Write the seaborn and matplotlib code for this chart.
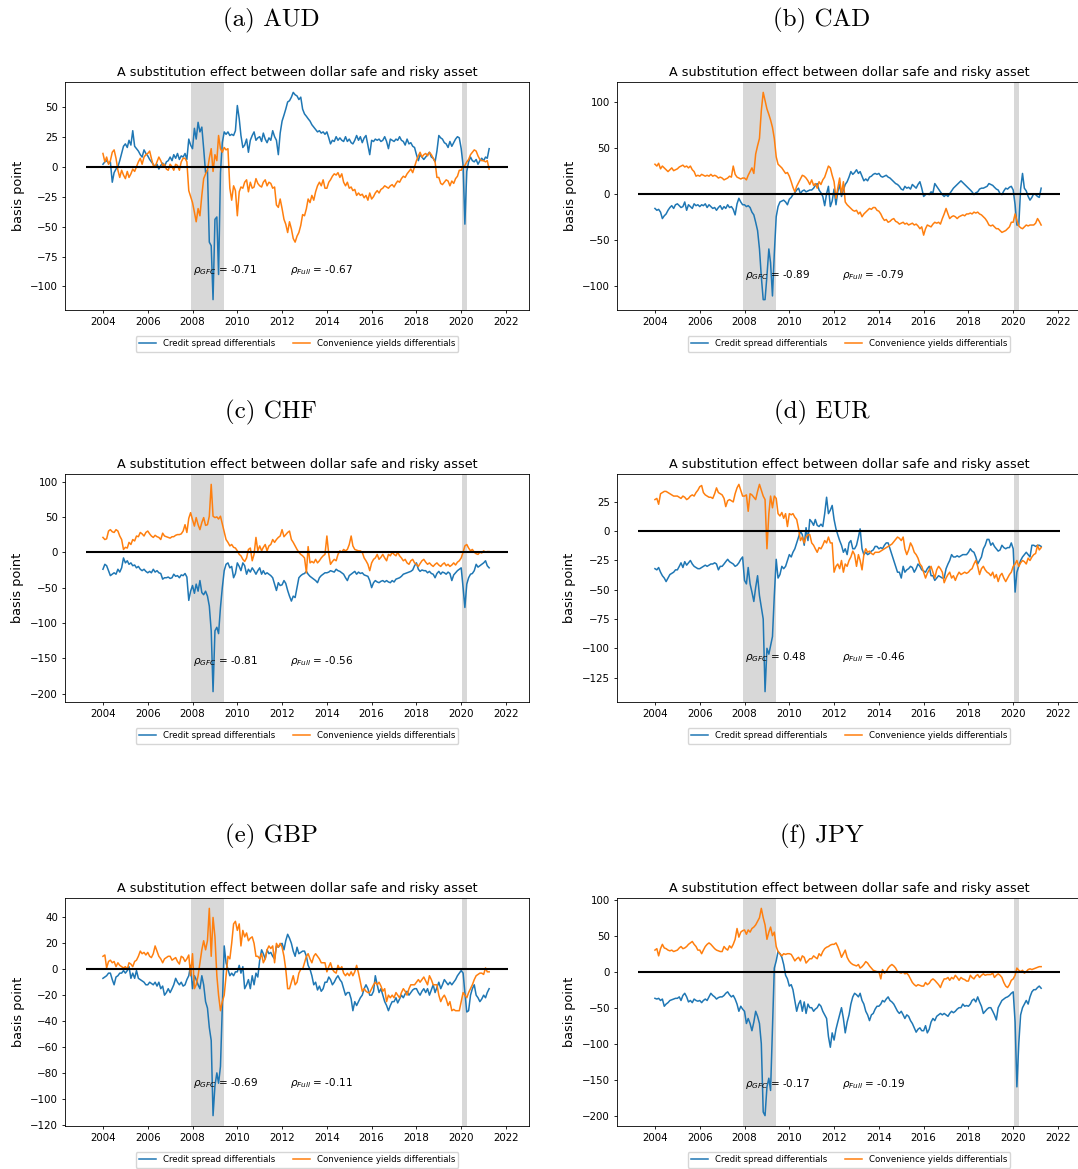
import matplotlib
matplotlib.use("Agg")
import matplotlib.pyplot as plt
import matplotlib.dates as mdates
import pandas as pd
import seaborn as sns

# Monthly observations, Jan 2004 - Apr 2021 (basis points)
dates = pd.date_range("2004-01-01", "2021-04-01", freq="MS")

aud_credit = [
    2, 4, 5, 3, 4, -13, -5, -2, 0, 5, 11, 17,
    19, 16, 22, 18, 30, 17, 15, 13, 10, 8, 14, 11,
    9, 6, 4, 2, 0, 2, -2, 1, 3, 0, 4, 5,
    8, 5, 10, 7, 11, 6, 9, 8, 11, 6, 23, 18,
    15, 32, 23, 37, 29, 33, 15, -5, -3, -63, -66, -111,
    -44, -42, -90, -5, 20, 29, 27, 29, 26, 27, 26, 30,
    51, 40, 26, 16, 18, 23, 12, 22, 26, 29, 22, 24,
    25, 21, 28, 23, 20, 24, 22, 30, 25, 22, 10, 28,
    38, 43, 48, 54, 55, 58, 62, 60, 59, 56, 58, 48,
    44, 42, 40, 38, 35, 33, 31, 29, 30, 28, 29, 27,
    29, 24, 19, 22, 21, 25, 22, 24, 22, 21, 25, 21,
    23, 20, 19, 22, 26, 22, 25, 20, 24, 26, 18, 10,
    22, 21, 23, 22, 23, 21, 22, 25, 21, 15, 23, 22,
    21, 23, 22, 25, 22, 21, 18, 23, 19, 20, 17, 16,
    10, 5, 10, 8, 6, 8, 10, 12, 8, 7, 4, 13,
    26, 24, 23, 20, 19, 16, 21, 17, 20, 23, 25, 24,
    15, 1, -48, -4, 4, 8, 5, 4, 6, 2, 5, 7,
    5, 8, 7, 15,
]
aud_conv = [
    11, 4, 8, 2, 5, 12, 14, 7, -3, -9, -3, -7,
    -10, -4, -9, -6, -2, -4, 0, 4, 7, 2, 8, 10,
    11, 13, 7, 1, 0, 4, 8, 5, 1, 2, -2, -3,
    2, 0, -3, 2, 1, -3, 4, 7, 7, 4, -20, -25,
    -30, -38, -46, -35, -41, -24, -10, -6, -3, 7, 15, -4,
    10, 5, 26, 15, 12, 16, 14, 15, -18, -28, -16, -20,
    -41, -21, -17, -18, -13, -11, -21, -13, -18, -17, -10, -14,
    -16, -17, -13, -11, -16, -13, -14, -18, -17, -32, -34, -27,
    -35, -44, -48, -55, -46, -52, -60, -63, -58, -55, -49, -40,
    -41, -35, -27, -30, -24, -28, -21, -16, -13, -16, -11, -18,
    -18, -13, -11, -8, -6, -7, -5, -9, -6, -13, -16, -13,
    -18, -17, -20, -19, -24, -22, -24, -23, -26, -24, -28, -22,
    -27, -25, -22, -20, -22, -19, -18, -16, -17, -18, -16, -15,
    -17, -14, -12, -13, -10, -8, -9, -6, -4, -2, -5, 0,
    5, 9, 12, 8, 10, 11, 9, 12, 10, 7, 4, -9,
    -9, -14, -15, -13, -11, -12, -16, -12, -14, -10, -8, -3,
    -3, 0, 1, 4, 6, 10, 12, 14, 13, 9, 6, 5,
    5, 4, 5, -2,
]

cad_credit = [
    -16, -18, -17, -20, -27, -24, -22, -18, -15, -13, -16, -12,
    -11, -13, -15, -14, -9, -18, -12, -14, -16, -11, -13, -12,
    -14, -12, -13, -11, -15, -12, -14, -16, -15, -18, -15, -13,
    -17, -14, -16, -12, -15, -14, -17, -23, -11, -5, -9, -12,
    -12, -14, -13, -15, -20, -23, -31, -40, -60, -90, -115, -115,
    -89, -60, -75, -111, -65, -25, -14, -9, -8, -7, -9, -12,
    -6, -4, -1, 1, 4, 6, 0, 3, 4, 2, 3, 4,
    4, 6, 9, 11, 4, 1, -3, -13, 0, 8, -14, -8,
    5, -12, 2, 10, -3, 4, 10, 13, 18, 24, 21, 23,
    26, 22, 24, 19, 14, 16, 14, 18, 19, 21, 22, 21,
    22, 19, 18, 19, 20, 18, 17, 15, 13, 11, 10, 8,
    5, 4, 8, 6, 7, 5, 10, 8, 6, 10, 13, 6,
    -3, -1, 0, -1, 2, 1, 11, 8, 5, 2, -1, -3,
    -1, -3, 0, 3, 6, 8, 10, 12, 14, 12, 10, 8,
    6, 4, 2, -1, 1, 2, 5, 6, 6, 7, 8, 11,
    10, 9, 7, 5, 4, 0, -1, 3, 6, 5, 7, 8,
    4, -12, -34, -34, 5, 22, 6, 3, -3, -7, -4, 0,
    -1, -3, -4, 6,
]
cad_conv = [
    32, 30, 33, 27, 30, 28, 26, 24, 26, 28, 25, 26,
    27, 29, 30, 31, 29, 30, 28, 30, 26, 24, 19, 20,
    19, 21, 20, 19, 20, 19, 21, 19, 20, 19, 17, 18,
    17, 15, 16, 17, 19, 18, 30, 21, 18, 17, 16, 17,
    17, 15, 20, 24, 28, 22, 43, 52, 60, 90, 110, 101,
    92, 86, 80, 72, 60, 40, 32, 30, 28, 25, 22, 23,
    19, 13, 7, 2, 8, 12, 16, 20, 19, 17, 14, 10,
    15, 9, 11, 6, 13, 10, 15, 18, 24, 30, 28, 20,
    13, -5, 6, 17, -1, 13, -9, -12, -14, -16, -18, -19,
    -18, -22, -20, -25, -22, -20, -18, -16, -17, -15, -15, -18,
    -19, -22, -26, -29, -28, -31, -30, -28, -27, -30, -31, -33,
    -32, -31, -33, -32, -34, -33, -32, -34, -33, -35, -38, -36,
    -45, -38, -34, -35, -36, -33, -31, -32, -31, -33, -27, -22,
    -16, -22, -27, -25, -24, -25, -27, -25, -24, -23, -24, -22,
    -22, -21, -22, -20, -21, -20, -22, -23, -25, -27, -30, -34,
    -35, -34, -36, -38, -38, -40, -42, -41, -40, -38, -36, -31,
    -31, -22, -29, -35, -37, -38, -36, -34, -35, -34, -34, -34,
    -32, -27, -30, -34,
]

chf_credit = [
    -24, -17, -19, -26, -33, -31, -29, -31, -24, -28, -22, -8,
    -15, -12, -17, -15, -19, -18, -22, -20, -24, -26, -24, -27,
    -29, -27, -29, -24, -28, -26, -29, -30, -38, -36, -36, -35,
    -37, -36, -31, -34, -33, -36, -32, -33, -30, -35, -68, -55,
    -47, -58, -45, -55, -40, -57, -60, -55, -62, -76, -111, -197,
    -111, -106, -115, -78, -50, -26, -17, -15, -22, -20, -36, -30,
    -15, -20, -26, -15, -19, -31, -24, -28, -22, -26, -31, -26,
    -22, -31, -26, -31, -29, -31, -33, -36, -45, -54, -43, -47,
    -46, -40, -44, -54, -62, -69, -62, -64, -50, -36, -33, -31,
    -30, -27, -31, -34, -36, -38, -40, -43, -36, -33, -31, -29,
    -29, -28, -26, -27, -28, -24, -26, -27, -29, -31, -36, -40,
    -33, -31, -29, -27, -31, -28, -30, -29, -32, -33, -34, -40,
    -50, -43, -40, -42, -43, -41, -40, -42, -40, -42, -43, -40,
    -42, -38, -37, -36, -34, -31, -30, -29, -28, -27, -25, -19,
    -15, -24, -27, -25, -26, -26, -29, -27, -30, -31, -36, -30,
    -27, -31, -28, -29, -31, -28, -30, -40, -32, -29, -26, -24,
    -22, -50, -78, -45, -36, -31, -30, -26, -17, -21, -19, -17,
    -15, -12, -19, -22,
]
chf_conv = [
    21, 18, 19, 30, 32, 29, 28, 32, 30, 23, 18, 4,
    7, 6, 14, 11, 18, 16, 23, 22, 28, 26, 23, 28,
    30, 26, 23, 21, 24, 22, 21, 18, 27, 23, 22, 21,
    20, 22, 22, 24, 25, 25, 26, 30, 39, 28, 48, 56,
    46, 37, 49, 39, 32, 42, 49, 38, 39, 51, 96, 51,
    49, 50, 47, 51, 40, 28, 18, 14, 9, 11, 7, 6,
    2, -3, -5, -10, -13, -8, 4, 6, -12, -3, 21, 2,
    9, 2, 7, 11, 2, 9, 11, 18, 14, 18, 21, 23,
    32, 22, 25, 28, 30, 18, 14, 9, 4, 0, -3, -5,
    -8, -29, 8, -15, -13, -15, -10, -15, -12, -8, -5, -3,
    23, -3, -17, -13, -10, -12, -3, 2, 0, 4, 2, 4,
    11, 23, 9, 4, 3, 2, 2, 0, -8, -12, -17, -26,
    -15, -10, -8, -3, -10, -7, -3, -8, -12, -3, -5, 0,
    -3, -5, 0, -5, -8, -12, -10, -15, -17, -12, -10, -15,
    -17, -20, -16, -12, -10, -14, -17, -15, -18, -20, -17, -15,
    -18, -20, -17, -15, -19, -17, -20, -18, -15, -18, -14, -12,
    -8, 0, 9, 11, 6, 2, 4, 0, -2, -3, 0, -1,
    2, 0, 1, 1,
]

eur_credit = [
    -32, -33, -31, -35, -38, -40, -43, -40, -37, -36, -35, -33,
    -33, -30, -27, -31, -26, -29, -27, -25, -28, -30, -31, -32,
    -32, -31, -30, -29, -30, -29, -28, -28, -27, -28, -33, -30,
    -30, -28, -26, -24, -26, -27, -28, -30, -29, -27, -24, -22,
    -42, -45, -31, -45, -52, -60, -48, -38, -55, -65, -75, -137,
    -100, -105, -98, -90, -55, -24, -40, -37, -30, -32, -30, -25,
    -20, -22, -18, -15, -10, -5, 0, -3, -12, 3, -8, 10,
    8, 5, 10, 5, 4, 6, 4, 15, 29, 15, 18, 22,
    10, 2, -3, -8, -12, -18, -15, -20, -10, -8, -15, -15,
    -12, -5, 2, -15, -20, -18, -20, -19, -17, -16, -13, -13,
    -15, -14, -15, -12, -10, -10, -15, -20, -25, -30, -35, -35,
    -40, -30, -35, -33, -32, -30, -31, -35, -32, -28, -30, -33,
    -34, -35, -32, -30, -38, -38, -42, -40, -38, -39, -40, -40,
    -32, -28, -25, -20, -22, -22, -21, -22, -21, -20, -20, -20,
    -18, -15, -17, -18, -22, -28, -25, -22, -15, -12, -7, -7,
    -12, -10, -13, -15, -17, -16, -12, -14, -15, -14, -14, -10,
    -15, -52, -35, -30, -25, -22, -20, -18, -20, -22, -12, -12,
    -13, -12, -12, -13,
]
eur_conv = [
    27, 28, 23, 32, 33, 34, 34, 33, 32, 31, 30, 30,
    30, 29, 28, 30, 29, 27, 28, 30, 31, 30, 33, 35,
    38, 39, 33, 31, 30, 29, 29, 28, 32, 37, 33, 32,
    31, 28, 21, 26, 27, 26, 25, 32, 37, 40, 35, 30,
    30, 31, 17, 32, 31, 29, 27, 34, 40, 35, 30, 27,
    -15, 15, 30, 20, 30, 28, 15, 13, 16, 11, 15, 4,
    15, 14, 15, 12, 10, 2, -8, -5, -10, -5, -3, -3,
    -10, -12, -15, -18, -14, -15, -12, -8, -10, -5, -10, -10,
    -35, -30, -28, -32, -25, -35, -28, -30, -25, -22, -17, -20,
    -30, -20, -25, -33, -20, -15, -18, -17, -19, -20, -18, -18,
    -18, -17, -16, -15, -14, -13, -12, -11, -9, -7, -5, -6,
    -8, -5, -15, -20, -16, -10, -13, -18, -20, -23, -28, -30,
    -35, -40, -36, -33, -30, -35, -40, -33, -30, -32, -35, -44,
    -40, -37, -35, -40, -38, -42, -38, -35, -37, -36, -35, -36,
    -35, -33, -32, -28, -25, -30, -37, -32, -30, -33, -35, -36,
    -38, -35, -40, -37, -43, -38, -36, -40, -43, -40, -37, -35,
    -30, -28, -25, -30, -27, -25, -26, -28, -23, -25, -22, -20,
    -19, -12, -16, -14,
]

gbp_credit = [
    -7, -6, -5, -3, -3, -8, -12, -6, -5, -3, -3, -1,
    -3, -1, 2, -7, -3, -7, -1, -7, -8, -9, -10, -12,
    -12, -10, -11, -12, -10, -13, -10, -15, -13, -20, -18, -15,
    -18, -15, -12, -7, -10, -12, -10, -13, -12, -8, -5, 3,
    -15, -5, -8, -12, -15, -5, -12, -25, -30, -45, -55, -113,
    -90, -80, -88, -75, -30, 18, 5, 0, -5, -3, -5, -2,
    -2, 3, -3, 2, -15, -12, -8, -15, -5, -12, -3, -6,
    7, 15, 12, 8, 15, 12, 13, 10, 8, 18, 17, 19,
    20, 15, 22, 27, 24, 20, 14, 10, 17, 12, 13, 14,
    14, 10, 3, 0, -5, -12, -10, -16, -13, -17, -15, -10,
    -10, -6, -8, -12, -10, -7, -5, -8, -10, -15, -20, -18,
    -18, -23, -32, -25, -28, -25, -22, -20, -15, -12, -15, -20,
    -20, -17, -5, -12, -18, -15, -20, -25, -28, -32, -28, -25,
    -25, -22, -26, -23, -20, -22, -19, -17, -20, -18, -16, -15,
    -15, -18, -20, -17, -15, -18, -15, -20, -16, -12, -18, -14,
    -10, -15, -12, -8, -10, -12, -10, -12, -10, -8, -5, -3,
    -1, -3, -18, -33, -32, -20, -15, -12, -20, -22, -25, -23,
    -20, -22, -18, -15,
]
gbp_conv = [
    10, 11, 1, 6, 7, 5, 6, 2, 5, 3, 2, 1,
    2, 0, 5, 4, 2, 6, 7, 10, 14, 12, 13, 11,
    13, 10, 9, 12, 18, 14, 10, 8, 5, 8, 9, 10,
    10, 7, 8, 9, 6, 4, 10, 9, 6, 8, 11, -5,
    12, -15, -12, -5, 5, 15, 22, 15, 22, 47, 10, 40,
    25, -5, -20, -32, -25, -20, -5, 10, 8, 20, 35, 37,
    30, 35, 18, 30, 25, 28, 22, 24, 25, 20, 10, 10,
    8, 12, 5, 8, 15, 18, 16, 18, 5, 20, 17, 20,
    17, 10, 0, -15, -15, -10, -5, -12, -10, -3, 0, 0,
    5, 10, 12, 8, 5, 10, 12, 10, 8, 5, 5, 5,
    -2, 2, 5, 0, -2, -3, 3, 0, 2, -3, -5, -3,
    -5, -2, -5, -2, 3, -3, -10, -17, -15, -17, -18, -18,
    -15, -12, -10, -12, -10, -13, -17, -15, -25, -20, -22, -20,
    -22, -18, -20, -22, -18, -15, -17, -20, -15, -12, -12, -12,
    -10, -8, -10, -8, -6, -9, -12, -5, -8, -12, -12, -12,
    -20, -25, -22, -20, -23, -28, -25, -32, -31, -32, -32, -32,
    -25, -18, -20, -22, -18, -15, -12, -8, -5, -4, -3, -3,
    -4, 1, -2, -2,
]

jpy_credit = [
    -37, -38, -37, -40, -38, -48, -45, -43, -40, -39, -38, -37,
    -37, -35, -40, -33, -30, -35, -42, -40, -43, -38, -40, -41,
    -40, -43, -40, -38, -40, -35, -30, -33, -35, -38, -36, -35,
    -35, -33, -30, -28, -32, -35, -33, -38, -45, -55, -48, -52,
    -55, -72, -65, -72, -82, -70, -55, -62, -72, -100, -195, -200,
    -160, -148, -165, -80, 5, 15, 28, 25, 20, 10, -5, -10,
    -20, -18, -25, -40, -55, -45, -40, -55, -42, -58, -45, -50,
    -50, -55, -52, -50, -45, -48, -55, -60, -65, -90, -105, -85,
    -95, -80, -70, -60, -50, -65, -85, -70, -60, -45, -35, -30,
    -32, -35, -30, -40, -45, -55, -60, -68, -60, -58, -52, -48,
    -48, -45, -40, -42, -38, -35, -40, -42, -45, -50, -55, -58,
    -55, -60, -65, -60, -62, -68, -72, -78, -84, -80, -78, -82,
    -82, -75, -85, -80, -70, -65, -68, -62, -60, -58, -60, -58,
    -60, -62, -58, -55, -57, -55, -52, -50, -50, -45, -48, -47,
    -48, -45, -40, -38, -42, -35, -42, -48, -58, -55, -52, -50,
    -50, -55, -60, -67, -50, -45, -40, -38, -36, -35, -33, -30,
    -28, -70, -160, -100, -60, -50, -45, -40, -45, -35, -28, -25,
    -25, -22, -20, -23,
]
jpy_conv = [
    30, 32, 22, 32, 38, 33, 32, 30, 29, 30, 28, 29,
    30, 33, 35, 32, 33, 35, 38, 40, 42, 38, 35, 30,
    30, 25, 30, 35, 38, 40, 38, 35, 32, 30, 29, 28,
    28, 35, 32, 30, 36, 33, 38, 45, 60, 48, 55, 57,
    58, 52, 58, 55, 60, 62, 65, 70, 75, 88, 75, 65,
    45, 55, 62, 50, 55, 35, 28, 25, 22, 25, 24, 25,
    25, 24, 20, 15, 18, 20, 15, 22, 20, 12, 15, 18,
    18, 22, 20, 18, 25, 22, 28, 32, 34, 35, 37, 38,
    38, 40, 35, 28, 20, 25, 30, 20, 15, 12, 10, 9,
    8, 10, 5, 7, 10, 14, 12, 8, 5, 2, 1, 0,
    0, -10, 3, -2, 0, 5, 8, 10, 8, 5, 0, -1,
    -2, 0, -3, -2, -5, -10, -15, -18, -20, -18, -19, -20,
    -20, -15, -18, -16, -12, -10, -12, -15, -18, -22, -15, -10,
    -10, -8, -12, -8, -10, -5, -8, -12, -8, -10, -11, -13,
    -13, -5, -8, -10, -6, -4, -8, -5, -3, -5, -4, -4,
    -4, -2, -8, -5, -3, -5, -8, -15, -20, -22, -18, -12,
    -10, -5, 5, 2, 0, 2, -2, 0, 3, 4, 3, 4,
    5, 6, 7, 7,
]

currencies = ["AUD", "CAD", "CHF", "EUR", "GBP", "JPY"]
panel_tags = ["(a)", "(b)", "(c)", "(d)", "(e)", "(f)"]
credit_series = [aud_credit, cad_credit, chf_credit, eur_credit, gbp_credit, jpy_credit]
conv_series = [aud_conv, cad_conv, chf_conv, eur_conv, gbp_conv, jpy_conv]
rho_gfc = ["-0.71", "-0.89", "-0.81", "0.48", "-0.69", "-0.17"]
rho_full = ["-0.67", "-0.79", "-0.56", "-0.46", "-0.11", "-0.19"]

gfc_window = ("2007-12-01", "2009-06-01")
covid_window = ("2020-01-20", "2020-04-01")
zero_line_span = ("2003-04-01", "2022-02-01")
rho_gfc_at = "2008-01-01"
rho_full_at = "2012-05-15"

plt.rcParams.update({
    "axes.linewidth": 0.6,
    "xtick.major.width": 0.6,
    "ytick.major.width": 0.6,
    "xtick.major.size": 2.5,
    "ytick.major.size": 2.5,
    "xtick.major.pad": 2.5,
    "ytick.major.pad": 2.5,
    "xtick.labelsize": 7.4,
    "ytick.labelsize": 7.4,
})

W, H = 1078, 1169
fig = plt.figure(figsize=(W / 100, H / 100), dpi=100)

col_left = [65, 617]
row_top = [82, 474, 898]
ax_w, ax_h = 464, 228
caption_x = [271, 822]
caption_y = [20, 412, 836]

for i, cur in enumerate(currencies):
    r, c = divmod(i, 2)
    ax = fig.add_axes([col_left[c] / W, 1 - (row_top[r] + ax_h) / H, ax_w / W, ax_h / H])

    ax.axvspan(pd.Timestamp(gfc_window[0]), pd.Timestamp(gfc_window[1]),
               color="gray", alpha=0.3, lw=0)
    ax.axvspan(pd.Timestamp(covid_window[0]), pd.Timestamp(covid_window[1]),
               color="gray", alpha=0.3, lw=0)

    df = pd.DataFrame({"date": dates, "credit": credit_series[i], "conv": conv_series[i]})
    sns.lineplot(data=df, x="date", y="credit", ax=ax, color="#1f77b4", lw=1.1,
                 label="Credit spread differentials")
    sns.lineplot(data=df, x="date", y="conv", ax=ax, color="#ff7f0e", lw=1.1,
                 label="Convenience yields differentials")
    ax.hlines(0, pd.Timestamp(zero_line_span[0]), pd.Timestamp(zero_line_span[1]),
              color="black", lw=1.5)

    ax.xaxis.set_major_locator(mdates.YearLocator(2))
    ax.xaxis.set_major_formatter(mdates.DateFormatter("%Y"))
    ax.set_xlabel("")
    ax.set_ylabel("basis point", fontsize=9.3)
    ax.set_title("A substitution effect between dollar safe and risky asset",
                 fontsize=9.2, pad=4.3)

    y_txt = 0.8 * min(credit_series[i])
    ax.text(pd.Timestamp(rho_gfc_at), y_txt, r"$\rho_{GFC}$ = " + rho_gfc[i], fontsize=7.5)
    ax.text(pd.Timestamp(rho_full_at), y_txt, r"$\rho_{Full}$ = " + rho_full[i], fontsize=7.5)

    ax.legend(loc="upper center", bbox_to_anchor=(0.5, -0.095), ncol=2, fontsize=6.2)

    fig.text(caption_x[c] / W, 1 - caption_y[r] / H, f"{panel_tags[i]} {cur}",
             ha="center", va="center", family="cmr10", fontsize=18)

fig.savefig("out.png", dpi=100)
